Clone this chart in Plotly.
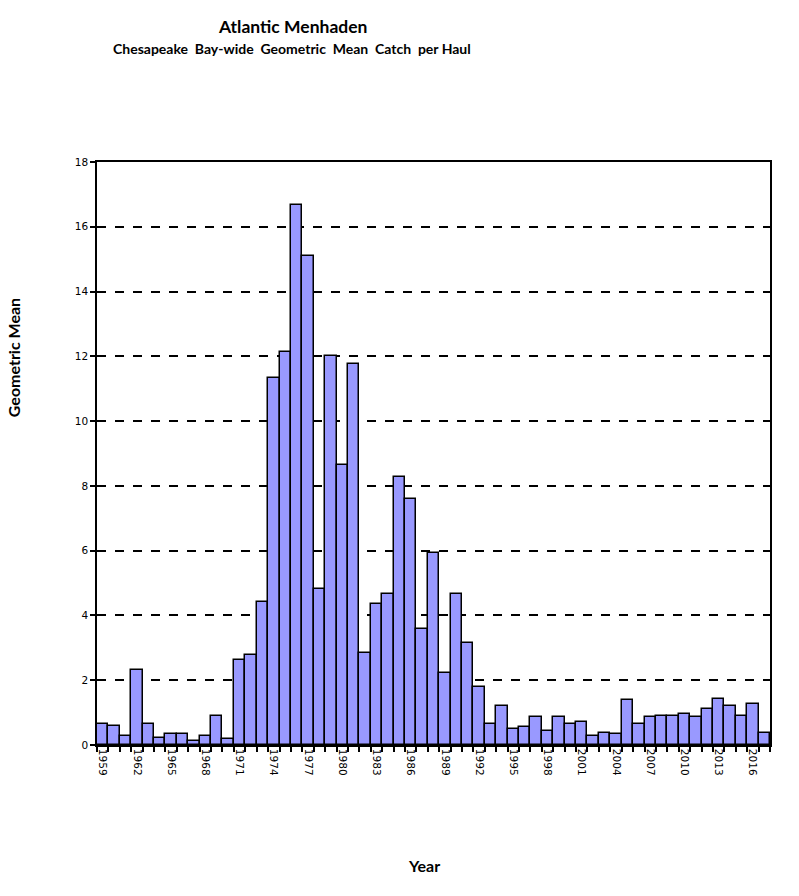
import plotly.graph_objects as go

years = list(range(1959, 2018))
values = [0.65, 0.6, 0.29, 2.32, 0.65, 0.23, 0.33, 0.33, 0.12, 0.29,
          0.9, 0.19, 2.62, 2.78, 4.4, 11.34, 12.12, 16.67, 15.1, 4.82,
          12.0, 8.64, 11.76, 2.85, 4.35, 4.66, 8.26, 7.58, 3.57, 5.92,
          2.21, 4.66, 3.16, 1.8, 0.65, 1.21, 0.48, 0.55, 0.86, 0.44,
          0.86, 0.65, 0.7, 0.29, 0.38, 0.33, 1.39, 0.65, 0.86, 0.9,
          0.9, 0.96, 0.86, 1.11, 1.42, 1.21, 0.9, 1.27, 0.38]
tick_years = list(range(1959, 2018, 3))
y_ticks = list(range(0, 19, 2))

fig = go.Figure(go.Bar(
    x=years, y=values,
    marker=dict(color="#9999FF", line=dict(color="black", width=1.5)),
))

fig.update_layout(
    width=799, height=896,
    margin=dict(l=97, r=29, t=162, b=151),
    plot_bgcolor="white", paper_bgcolor="white",
    bargap=0, showlegend=False,
    font=dict(family="DejaVu Sans", color="black"),
)
fig.update_xaxes(
    range=[1958.5, 2017.5],
    tickvals=tick_years, ticktext=[str(y) for y in tick_years],
    tickangle=90, tickfont=dict(size=10.5),
    ticks="", showgrid=False,
    showline=True, linecolor="black", linewidth=1.5, mirror=True,
    minor=dict(tick0=1958.5, dtick=1, ticks="outside", ticklen=5, tickcolor="black", tickwidth=1.5, showgrid=False),
)
fig.update_yaxes(
    range=[0, 18], tickvals=y_ticks, tickfont=dict(size=10.5),
    ticks="outside", ticklen=5, tickcolor="black", tickwidth=1.5,
    showgrid=True, gridcolor="black", gridwidth=2, griddash="dash",
    zeroline=False,
    showline=True, linecolor="black", linewidth=1.5, mirror=True,
)

title_font = "Lato"
common = dict(xref="paper", yref="paper", showarrow=False, xanchor="center", yanchor="middle")
fig.add_annotation(text="<b>Atlantic Menhaden</b>", x=0.29, y=1.232,
                   font=dict(family=title_font, size=17.5), **common)
fig.add_annotation(text="<b>Chesapeake  Bay-wide  Geometric  Mean  Catch  per Haul</b>", x=0.29, y=1.1955,
                   font=dict(family=title_font, size=14), **common)
fig.add_annotation(text="<b>Geometric Mean</b>", x=-0.125, y=0.665, textangle=-90,
                   font=dict(family=title_font, size=16), **common)
fig.add_annotation(text="<b>Year</b>", x=0.486, y=-0.206,
                   font=dict(family=title_font, size=16), **common)

fig.write_html("out.html")
